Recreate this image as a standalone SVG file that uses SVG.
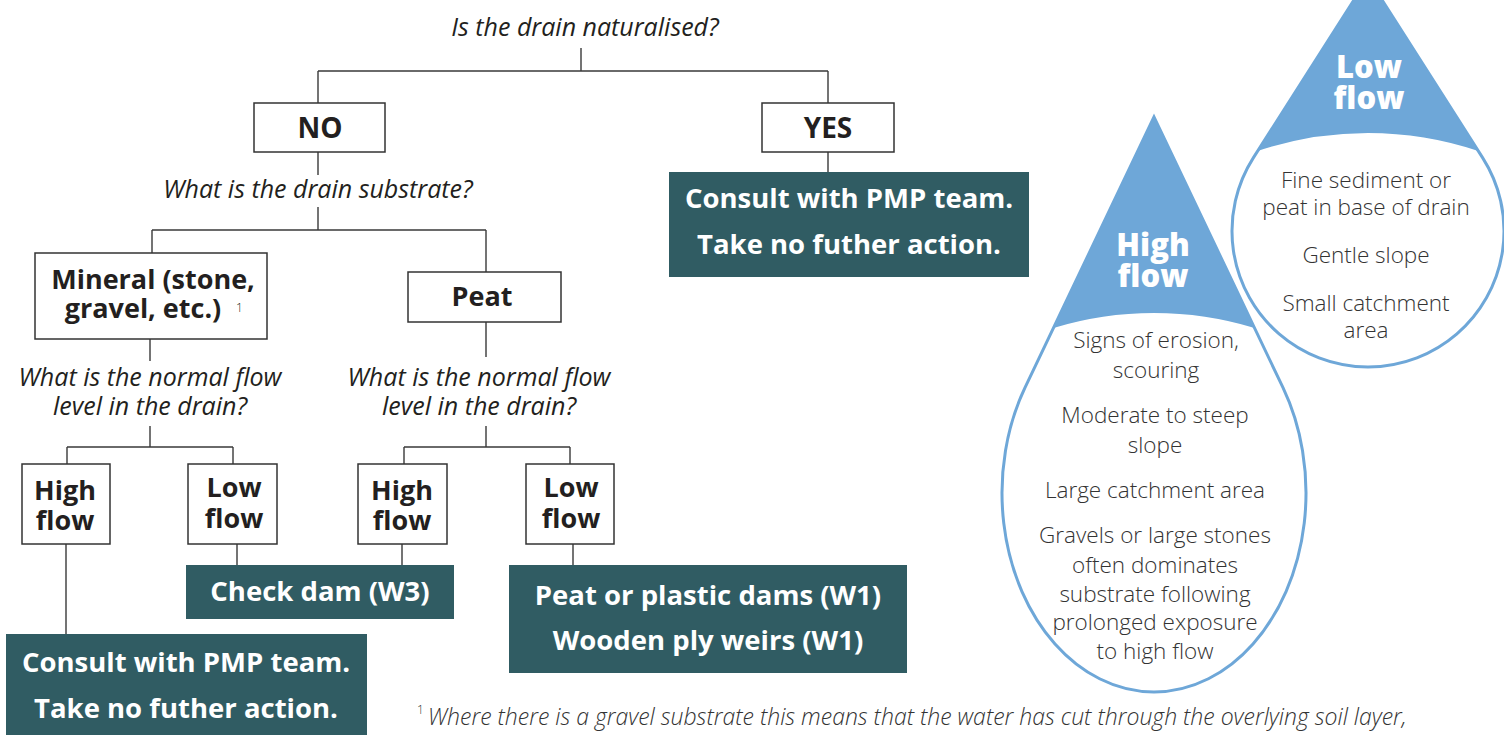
<svg xmlns="http://www.w3.org/2000/svg" width="1504" height="735" viewBox="0 0 1504 735">
<style>
.q{font-family:"Open Sans",Lato,sans-serif;font-style:italic;font-size:25px;fill:#231f20;text-anchor:middle}
.b{font-family:"Open Sans",Lato,sans-serif;font-weight:700;font-size:27px;fill:#231f20;text-anchor:middle}
.w{font-family:"Open Sans",Lato,sans-serif;font-weight:700;font-size:27.5px;fill:#ffffff;text-anchor:middle}
.box{fill:#ffffff;stroke:#333333;stroke-width:1.5}
.teal{fill:#305c63}
.ln{stroke:#3a3a3a;stroke-width:1.4;fill:none}
.drop{fill:#ffffff;stroke:#6ea7d8;stroke-width:3}
.dropfill{fill:#6ea7d8}
.dt{font-family:"Open Sans",Lato,sans-serif;font-weight:800;font-size:31px;fill:#ffffff;text-anchor:middle}
.dl{font-family:"Open Sans",Lato,sans-serif;font-weight:300;font-size:22.5px;fill:#333333;text-anchor:middle}
.fn{font-family:"Open Sans",Lato,sans-serif;font-weight:300;font-style:italic;font-size:23px;fill:#333333}
</style>

<g id="connectors">
<path class="ln" d="M581,48 V71 M318,71 H828 M318,71 V103 M828,71 V103 M828,152 V172"/>
<path class="ln" d="M318,152 V175 M318,207 V230 M152,230 H486 M152,230 V253 M486,230 V272"/>
<path class="ln" d="M150,339 V361 M486,322 V357 M150,426 V447 M67,447 H233 M67,447 V464 M233,447 V464 M486,426 V447 M404,447 H570 M404,447 V464 M570,447 V464"/>
<path class="ln" d="M66,544 V634 M237,544 V565 M402,544 V565 M573,544 V565"/>
</g>

<g id="q1"><text class="q" x="585" y="36">Is the drain naturalised?</text></g>

<g id="no"><rect class="box" x="254" y="103" width="131" height="49"/><text class="b" x="320" y="138" style="font-size:28px">NO</text></g>
<g id="yes"><rect class="box" x="762" y="103" width="132" height="49"/><text class="b" x="828" y="138" style="font-size:28px">YES</text></g>
<g id="yes-action"><rect class="teal" x="669" y="172" width="360" height="105"/>
<text class="w" x="849" y="208">Consult with PMP team.<tspan x="849" dy="46">Take no futher action.</tspan></text></g>

<g id="q2"><text class="q" x="318" y="198">What is the drain substrate?</text></g>

<g id="mineral"><rect class="box" x="35" y="253" width="232" height="86"/>
<text class="b" x="153" y="289">Mineral (stone,<tspan x="143" dy="29">gravel, etc.)</tspan></text>
<text x="236" y="312" style="font-family:'Open Sans',sans-serif;font-weight:300;font-size:12px;fill:#231f20">1</text></g>

<g id="peat"><rect class="box" x="408" y="272" width="153" height="50"/><text class="b" x="482" y="306">Peat</text></g>

<g id="q3"><text class="q" x="150" y="386">What is the normal flow<tspan x="150" dy="29">level in the drain?</tspan></text></g>
<g id="q4"><text class="q" x="479" y="386">What is the normal flow<tspan x="479" dy="29">level in the drain?</tspan></text></g>

<g id="high1"><rect class="box" x="22" y="464" width="88" height="80"/><text class="b" x="65" y="500">High<tspan x="65" dy="30">flow</tspan></text></g>
<g id="low1"><rect class="box" x="188" y="464" width="89" height="80"/><text class="b" x="234" y="497">Low<tspan x="234" dy="31">flow</tspan></text></g>
<g id="high2"><rect class="box" x="358" y="464" width="89" height="80"/><text class="b" x="402" y="500">High<tspan x="402" dy="30">flow</tspan></text></g>
<g id="low2"><rect class="box" x="526" y="464" width="88" height="80"/><text class="b" x="571" y="497">Low<tspan x="571" dy="31">flow</tspan></text></g>

<g id="check-dam"><rect class="teal" x="186" y="565" width="268" height="54"/><text class="w" x="320" y="601">Check dam (W3)</text></g>
<g id="peat-dams"><rect class="teal" x="509" y="565" width="398" height="108"/>
<text class="w" x="708" y="605">Peat or plastic dams (W1)<tspan x="708" dy="45">Wooden ply weirs (W1)</tspan></text></g>
<g id="high-action"><rect class="teal" x="6" y="634" width="361" height="105"/>
<text class="w" x="186" y="672">Consult with PMP team.<tspan x="186" dy="46">Take no futher action.</tspan></text></g>

<g id="footnote">
<text class="fn" x="417" y="725"><tspan dy="-11" style="font-size:12px;font-style:normal">1</tspan><tspan dx="4" dy="11">Where there is a gravel substrate this means that the water has cut through the overlying soil layer,</tspan></text>
</g>

<g id="low-drop">
<path class="drop" d="M1368,-22 L1253.3,157.9 A136,136 0 1 0 1482.7,157.9 Z"/>
<path class="dropfill" d="M1368,-22 L1257.7,151 A347,347 0 0 1 1478.3,151 Z"/>
<text class="dt" x="1369" y="78">Low<tspan x="1369" dy="31">flow</tspan></text>
<text class="dl" x="1366" y="188">Fine sediment or<tspan x="1366" dy="27">peat in base of drain</tspan></text>
<text class="dl" x="1366" y="263">Gentle slope</text>
<text class="dl" x="1366" y="311">Small catchment<tspan x="1366" dy="27">area</tspan></text>
</g>

<g id="high-drop">
<path class="drop" d="M1154,117 L1025,387.7 A152,199 0 1 0 1283,387.7 Z"/>
<path class="dropfill" d="M1154,117 L1053.4,328 A345,345 0 0 1 1254.6,328 Z"/>
<text class="dt" x="1153" y="256">High<tspan x="1153" dy="31">flow</tspan></text>
<text class="dl" x="1156" y="348">Signs of erosion,<tspan x="1156" dy="30">scouring</tspan></text>
<text class="dl" x="1155" y="423">Moderate to steep<tspan x="1155" dy="30">slope</tspan></text>
<text class="dl" x="1155" y="498">Large catchment area</text>
<text class="dl" x="1155" y="543">Gravels or large stones<tspan x="1155" dy="30">often dominates</tspan><tspan x="1155" dy="29">substrate following</tspan><tspan x="1155" dy="28">prolonged exposure</tspan><tspan x="1155" dy="29">to high flow</tspan></text>
</g>
</svg>
